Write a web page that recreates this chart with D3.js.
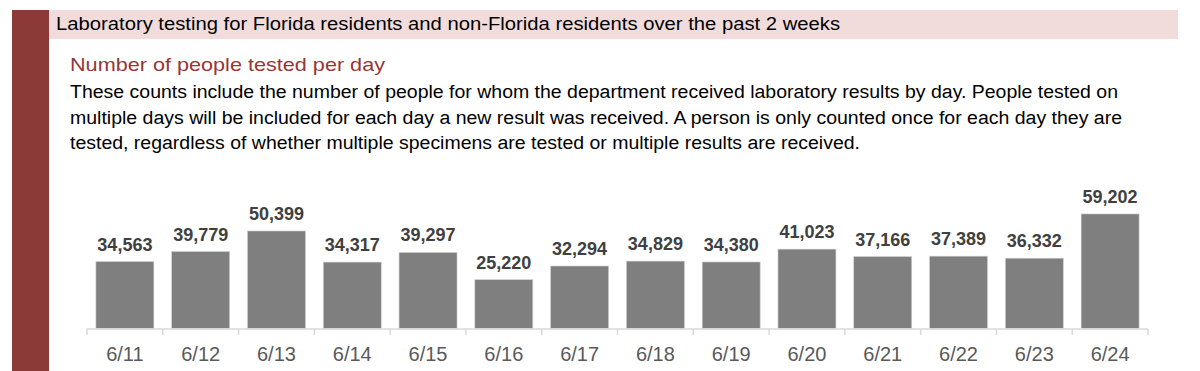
<!DOCTYPE html>
<html><head><meta charset="utf-8">
<script src="https://cdn.jsdelivr.net/npm/d3@7"></script>
<style>html,body{margin:0;padding:0;background:#fff;overflow:hidden}</style>
</head><body>
<script>
const categories = ["6/11","6/12","6/13","6/14","6/15","6/16","6/17","6/18","6/19","6/20","6/21","6/22","6/23","6/24"];
const values = [34563,39779,50399,34317,39297,25220,32294,34829,34380,41023,37166,37389,36332,59202];
const titleText = "Laboratory testing for Florida residents and non-Florida residents over the past 2 weeks";
const subtitleText = "Number of people tested per day";
const paragraphLines = [
  "These counts include the number of people for whom the department received laboratory results by day. People tested on",
  "multiple days will be included for each day a new result was received. A person is only counted once for each day they are",
  "tested, regardless of whether multiple specimens are tested or multiple results are received."
];

const W = 1200, H = 371;
const FONT = "'Liberation Sans', Arial, sans-serif";
const svg = d3.select("body").append("svg").attr("width", W).attr("height", H);

// left dark red bar
svg.append("rect").attr("x", 12).attr("y", 10).attr("width", 37).attr("height", H - 10).attr("fill", "#8c3a38");
// title banner
svg.append("rect").attr("x", 49).attr("y", 10).attr("width", 1129).attr("height", 29).attr("fill", "#f2dcdb");
svg.append("text").attr("x", 56).attr("y", 30).attr("font-family", FONT).attr("font-size", 17.5)
  .attr("fill", "#000").attr("textLength", 784).attr("lengthAdjust", "spacingAndGlyphs").text(titleText);

svg.append("text").attr("x", 70).attr("y", 71).attr("font-family", FONT).attr("font-size", 19)
  .attr("fill", "#953735").attr("textLength", 315).attr("lengthAdjust", "spacingAndGlyphs").text(subtitleText);

const lineWidths = [1048, 1052, 790];
paragraphLines.forEach((t, i) => {
  svg.append("text").attr("x", 70).attr("y", 98 + i * 25.7).attr("font-family", FONT).attr("font-size", 18)
    .attr("fill", "#000").attr("textLength", lineWidths[i]).attr("lengthAdjust", "spacingAndGlyphs").text(t);
});

// chart
const x = d3.scaleBand().domain(categories).range([87, 1148]).paddingInner(0.235).paddingOuter(0.1175);
const y = d3.scaleLinear().domain([0, 60000]).range([328.5, 212.4]);

const g = svg.append("g");
g.selectAll("rect.bar").data(values).join("rect").attr("class", "bar")
  .attr("x", (d, i) => x(categories[i])).attr("width", x.bandwidth())
  .attr("y", d => y(d)).attr("height", d => y(0) - y(d))
  .attr("fill", "#7f7f7f").attr("stroke", "#d0d0d0").attr("stroke-width", 0.6);

const fmt = d3.format(",");
g.selectAll("text.val").data(values).join("text").attr("class", "val")
  .attr("x", (d, i) => x(categories[i]) + x.bandwidth() / 2).attr("y", d => y(d) - 11)
  .attr("text-anchor", "middle").attr("font-family", FONT).attr("font-weight", "bold")
  .attr("font-size", 18).attr("fill", "#404040").text(d => fmt(d));

// axis
const step = x.step();
const x0 = x.range()[0];
g.append("line").attr("x1", 87).attr("x2", 1148).attr("y1", 329).attr("y2", 329)
  .attr("stroke", "#d9d9d9").attr("stroke-width", 1.5);
g.selectAll("line.tick").data(d3.range(categories.length + 1)).join("line").attr("class", "tick")
  .attr("x1", i => x0 + i * (1148 - 87) / categories.length).attr("x2", i => x0 + i * (1148 - 87) / categories.length)
  .attr("y1", 329).attr("y2", 335).attr("stroke", "#d9d9d9").attr("stroke-width", 1.5);

g.selectAll("text.cat").data(categories).join("text").attr("class", "cat")
  .attr("x", d => x(d) + x.bandwidth() / 2).attr("y", 361)
  .attr("text-anchor", "middle").attr("font-family", FONT)
  .attr("font-size", 20).attr("fill", "#595959").text(d => d);
</script>
</body></html>
